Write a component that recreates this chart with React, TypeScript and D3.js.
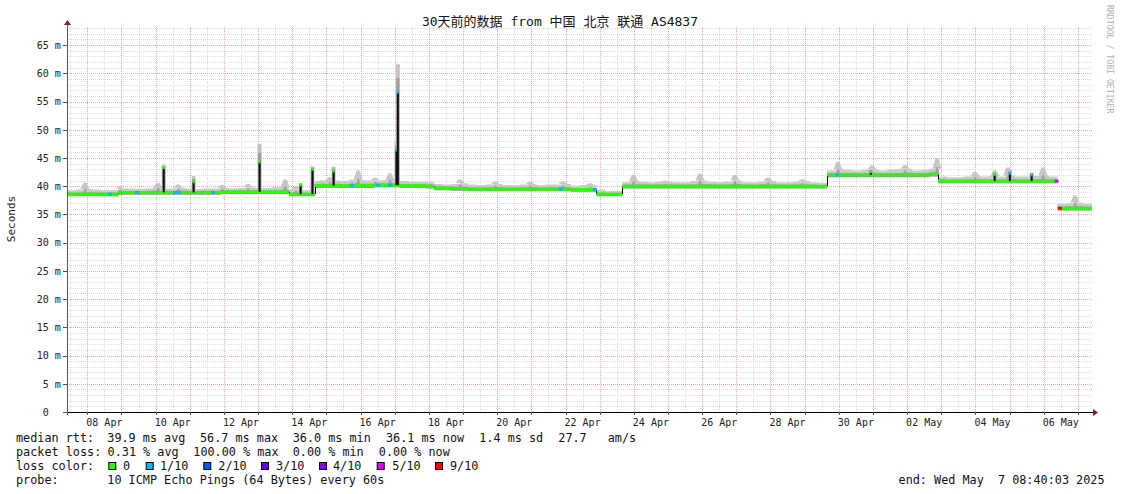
import React from 'react';
import * as d3 from 'd3';

// ---------- data ----------
const TITLE = '30天前的数据 from 中国 北京 联通 AS4837';
const Y_AXIS_TITLE = 'Seconds';
const WATERMARK = 'RRDTOOL / TOBI OETIKER';
const DOMAIN_START = '2025-04-07T09:44:00Z';
const DOMAIN_END = '2025-05-07T10:37:00Z';
const SAMPLE_HOURS = 6;
const Y_MAX = 68.2;

// median rtt (ms), one value per 6-hour sample starting at DOMAIN_START
const medianRtt = [
  38.6, 38.6, 38.6, 38.6, 38.6, 38.6,
  38.9, 38.9, 38.9, 38.9, 38.9, 38.9, 38.9, 38.9, 38.9, 38.9, 38.9, 38.9,
  39.0, 39.0, 39.0, 39.0, 39.0, 39.0, 39.0, 39.0,
  38.6, 38.6, 38.6,
  40.1, 40.1, 40.1, 40.1, 40.1, 40.1, 40.1, 40.2, 40.2, 40.2,
  40.1, 40.1, 40.1, 40.0,
  39.7, 39.7, 39.6, 39.6, 39.5, 39.5, 39.5, 39.5, 39.5, 39.5, 39.5, 39.5, 39.5, 39.5, 39.5, 39.5, 39.4, 39.4, 39.4,
  38.6, 38.6, 38.6,
  40.0, 40.0, 40.0, 40.0, 40.0, 40.0, 40.0, 40.0, 40.0, 40.0, 40.0, 40.0,
  40.0, 40.0, 40.0, 40.0, 40.0, 40.0, 40.0, 40.0, 40.0, 40.0, 40.0, 40.0,
  42.0, 42.0, 42.0, 42.0, 42.0, 42.0, 42.0, 42.0, 42.0, 42.0, 42.0, 42.0, 42.1,
  40.9, 40.9, 40.9, 40.9, 40.9, 40.9, 40.9, 40.9, 40.9, 40.9, 40.9, 40.9, 40.9, 40.9,
  36.1, 36.1, 36.1, 36.1,
];

// upper edge of the smoke per sample
const smokeHigh = [
  39.3, 39.4, 39.5, 39.4, 39.3, 39.3,
  39.6, 39.6, 39.5, 39.6, 39.7, 39.6, 39.6, 39.7, 39.6, 39.5, 39.6, 39.6,
  39.7, 39.6, 39.7, 39.8, 39.7, 39.7, 39.8, 39.9,
  39.4, 39.3, 39.3,
  40.9, 40.9, 41.0, 40.9, 41.0, 41.1, 41.0, 41.0, 41.1, 41.2,
  40.9, 40.8, 40.8, 40.7,
  40.4, 40.3, 40.4, 40.5, 40.3, 40.2, 40.3, 40.4, 40.2, 40.2, 40.3, 40.4, 40.2, 40.3, 40.3, 40.4, 40.1, 40.2, 40.2,
  39.4, 39.2, 39.2,
  40.7, 40.9, 40.8, 40.7, 40.8, 40.8, 40.7, 40.7, 40.9, 41.0, 40.8, 40.7,
  40.8, 41.0, 40.7, 40.7, 40.8, 40.9, 40.7, 40.7, 40.8, 40.9, 40.7, 40.6,
  42.8, 43.0, 42.9, 42.8, 42.9, 43.0, 42.8, 42.9, 43.0, 43.1, 42.8, 42.9, 43.1,
  41.7, 41.6, 41.6, 41.7, 41.8, 41.7, 41.8, 41.7, 41.9, 41.7, 41.7, 41.8, 41.9, 41.7,
  36.9, 37.0, 37.1, 36.9,
];

// lower edge of the smoke per sample
const smokeLow = [
  38.2, 38.2, 38.2, 38.2, 38.2, 38.2,
  38.5, 38.5, 38.5, 38.5, 38.5, 38.5, 38.5, 38.5, 38.5, 38.5, 38.5, 38.5,
  38.6, 38.6, 38.6, 38.6, 38.6, 38.6, 38.6, 38.6,
  38.2, 38.2, 38.2,
  39.7, 39.7, 39.7, 39.7, 39.7, 39.7, 39.7, 39.8, 39.8, 39.8,
  39.7, 39.7, 39.7, 39.6,
  39.3, 39.3, 39.2, 39.2, 39.1, 39.1, 39.1, 39.1, 39.1, 39.1, 39.1, 39.1, 39.1, 39.1, 39.1, 39.1, 39.0, 39.0, 39.0,
  38.2, 38.2, 38.2,
  39.6, 39.6, 39.6, 39.6, 39.6, 39.6, 39.6, 39.6, 39.6, 39.6, 39.6, 39.6,
  39.6, 39.6, 39.6, 39.6, 39.6, 39.6, 39.6, 39.6, 39.6, 39.6, 39.6, 39.6,
  41.6, 41.6, 41.6, 41.6, 41.6, 41.6, 41.6, 41.6, 41.6, 41.6, 41.6, 41.6, 41.7,
  40.5, 40.5, 40.5, 40.5, 40.5, 40.5, 40.5, 40.5, 40.5, 40.5, 40.5, 40.5, 40.5, 40.5,
  35.7, 35.7, 35.7, 35.7,
];

// sample index where a data gap separates the line (no connector drawn)
const gapBeforeSample = [116];

// narrow bursts in the smoke (max rtt)
const smokeBumpTimes = [
  '2025-04-07T22:20:00Z', '2025-04-08T22:56:00Z', '2025-04-10T01:38:00Z', '2025-04-10T15:44:00Z',
  '2025-04-11T22:38:00Z', '2025-04-12T16:56:00Z', '2025-04-13T18:56:00Z', '2025-04-14T02:38:00Z',
  '2025-04-14T20:56:00Z', '2025-04-15T02:32:00Z', '2025-04-15T17:56:00Z', '2025-04-15T22:14:00Z',
  '2025-04-16T10:08:00Z', '2025-04-16T20:38:00Z', '2025-04-18T00:44:00Z', '2025-04-18T21:50:00Z',
  '2025-04-19T22:26:00Z', '2025-04-20T23:02:00Z', '2025-04-21T22:14:00Z', '2025-04-22T17:14:00Z',
  '2025-04-23T23:44:00Z', '2025-04-24T21:56:00Z', '2025-04-25T22:26:00Z', '2025-04-26T23:02:00Z',
  '2025-04-27T22:14:00Z', '2025-04-28T22:08:00Z', '2025-04-29T23:26:00Z', '2025-04-30T23:20:00Z',
  '2025-05-01T22:32:00Z', '2025-05-02T21:02:00Z', '2025-05-03T23:44:00Z', '2025-05-04T13:44:00Z',
  '2025-05-04T22:50:00Z', '2025-05-05T23:26:00Z', '2025-05-06T21:56:00Z',
];
const smokeBumpTops = [
  40.6, 40.0, 40.6, 40.3, 40.2, 40.4, 41.2, 40.0,
  41.0, 41.6, 41.2, 42.8, 41.5, 42.3, 40.8, 41.2,
  40.8, 40.8, 40.8, 40.5, 42.0, 41.0, 42.2, 42.0,
  41.5, 41.2, 44.3, 43.7, 43.7, 45.0, 42.5, 42.8,
  43.3, 43.3, 38.4,
];

// short latency spikes
const spikeTimes = [
  '2025-04-10T05:00:00Z', '2025-04-11T02:00:00Z', '2025-04-13T00:20:00Z', '2025-04-14T05:10:00Z',
  '2025-04-14T13:30:00Z', '2025-04-15T04:20:00Z', '2025-04-17T00:30:00Z', '2025-04-17T01:30:00Z',
  '2025-04-30T21:50:00Z', '2025-05-04T12:50:00Z', '2025-05-04T23:30:00Z', '2025-05-05T14:50:00Z',
];
const spikePeak = [43.3, 40.8, 44.3, 40.2, 43.0, 42.7, 46.4, 56.7, 42.6, 42.1, 42.3, 42.0];
const spikeSmokeTop = [43.8, 41.8, 47.5, 40.6, 43.5, 43.5, 48.0, 61.6, 43.0, 42.6, 43.0, 42.4];
const spikeLoss = [0, 0, 0, 0, 0, 0, 1, 1, 0, 0, 1, 1];

// packet-loss events on the median line
const lossEventTimes = [
  '2025-04-08T15:56:00Z', '2025-04-09T10:56:00Z', '2025-04-10T13:38:00Z', '2025-04-10T16:30:00Z',
  '2025-04-11T16:20:00Z', '2025-04-15T17:56:00Z', '2025-04-16T12:14:00Z', '2025-04-16T20:40:00Z',
  '2025-04-21T20:38:00Z', '2025-04-22T20:44:00Z', '2025-04-29T23:00:00Z', '2025-05-06T09:00:00Z',
  '2025-05-06T11:24:00Z',
];
const lossEventLevels = [1, 1, 1, 1, 1, 1, 1, 1, 1, 1, 1, 5, 9];

const yTicks = [0, 5, 10, 15, 20, 25, 30, 35, 40, 45, 50, 55, 60, 65];
const yTickLabels = ['0  ', '5 m', '10 m', '15 m', '20 m', '25 m', '30 m', '35 m', '40 m', '45 m', '50 m', '55 m', '60 m', '65 m'];
const xLabelDates = [
  '2025-04-08', '2025-04-10', '2025-04-12', '2025-04-14', '2025-04-16', '2025-04-18', '2025-04-20',
  '2025-04-22', '2025-04-24', '2025-04-26', '2025-04-28', '2025-04-30', '2025-05-02', '2025-05-04', '2025-05-06',
];
const xLabels = [
  '08 Apr', '10 Apr', '12 Apr', '14 Apr', '16 Apr', '18 Apr', '20 Apr',
  '22 Apr', '24 Apr', '26 Apr', '28 Apr', '30 Apr', '02 May', '04 May', '06 May',
];

const lossKeys = [0, 1, 2, 3, 4, 5, 9];
const lossNames = ['0', '1/10', '2/10', '3/10', '4/10', '5/10', '9/10'];
const lossColors = ['#26ff00', '#00b8ff', '#0059ff', '#5e00ff', '#7e00ff', '#dd00ff', '#ff0000'];

const rttHeader = 'median rtt:';
const rttStats = ['39.9 ms avg', '56.7 ms max', '36.0 ms min', '36.1 ms now', '1.4 ms sd', '27.7', 'am/s'];
const lossHeader = 'packet loss:';
const lossStats = ['0.31 % avg', '100.00 % max', '0.00 % min', '0.00 % now'];
const colorHeader = 'loss color:';
const probeHeader = 'probe:';
const probeText = '10 ICMP Echo Pings (64 Bytes) every 60s';
const endText = 'end: Wed May  7 08:40:03 2025';

// ---------- layout ----------
const W = 1121;
const H = 494;
const LEFT = 67;
const RIGHT = 1093;
const BOTTOM = 412;
const TOP = 27;
const MONO = '"DejaVu Sans Mono", monospace';
const TITLE_FONT = '"DejaVu Sans Mono", "Noto Sans CJK SC", monospace';
const rttStatX = [107.3, 200, 292.7, 386, 479.3, 558.3, 607.7];
const lossStatX = [107.6, 193.3, 292.7, 378.8];
const boxX = [108.3, 145.7, 203.3, 261, 319, 376.7, 435];
const boxLabelX = [123, 160, 218.3, 276, 333, 392.3, 450];
const PRE = { whiteSpace: 'pre' as const };
const MINOR_GRID = '#dcdcdc';
const MAJOR_GRID = '#f3a3a3';

export default function App() {
  const start = new Date(DOMAIN_START);
  const end = new Date(DOMAIN_END);
  const x = d3.scaleUtc().domain([start, end]).range([LEFT, RIGHT]);
  const y = d3.scaleLinear().domain([0, Y_MAX]).range([BOTTOM, TOP]);

  const n = medianRtt.length;
  const pts = d3.range(n + 1).map((i) => {
    const k = Math.min(i, n - 1);
    return {
      t: d3.utcHour.offset(start, i * SAMPLE_HOURS),
      med: medianRtt[k],
      hi: smokeHigh[k],
      lo: smokeLow[k],
    };
  });
  const sampleAt = (t: Date) => {
    const k = Math.floor((t.getTime() - start.getTime()) / (SAMPLE_HOURS * 3600e3));
    return Math.max(0, Math.min(n - 1, k));
  };
  const colorOf = (lvl: number) => lossColors[Math.max(0, lossKeys.indexOf(lvl))];

  const outerArea = d3
    .area<any>()
    .x((d) => x(d.t))
    .y0((d) => y(d.lo))
    .y1((d) => y(d.hi))
    .curve(d3.curveStepAfter);
  const innerArea = d3
    .area<any>()
    .x((d) => x(d.t))
    .y0((d) => y(d.lo))
    .y1((d) => y(d.med + 0.35 * (d.hi - d.med)))
    .curve(d3.curveStepAfter);

  const majorX = d3.utcDay.range(start, end);
  const minorX = d3.utcHour.every(12)!.range(start, end).filter((d) => d.getUTCHours() === 12);
  const minorY = d3.range(1, Math.floor(Y_MAX) + 1).filter((v) => v % 5 !== 0);
  const crisp = (v: number) => Math.round(v) + 0.5;

  return (
    <svg
      width={W}
      height={H}
      style={{ position: 'absolute', left: 0, top: 0, background: '#fff' }}
      fontFamily={MONO}
    >
      <rect x={0} y={0} width={W} height={H} fill="#fff" />
      {/* grid */}
      <g shapeRendering="crispEdges">
        {minorY.map((v) => (
          <line key={'my' + v} x1={LEFT} x2={RIGHT} y1={crisp(y(v))} y2={crisp(y(v))}
            stroke={MINOR_GRID} strokeDasharray="1,1" />
        ))}
        {minorX.map((d) => (
          <line key={'mx' + d.getTime()} x1={crisp(x(d))} x2={crisp(x(d))} y1={TOP} y2={BOTTOM}
            stroke={MINOR_GRID} strokeDasharray="1,1" />
        ))}
        {yTicks.filter((v) => v > 0).map((v) => (
          <line key={'My' + v} x1={LEFT} x2={RIGHT} y1={crisp(y(v))} y2={crisp(y(v))}
            stroke={MAJOR_GRID} strokeDasharray="1,1" />
        ))}
        {majorX.map((d) => (
          <line key={'Mx' + d.getTime()} x1={crisp(x(d))} x2={crisp(x(d))} y1={TOP} y2={BOTTOM}
            stroke={MAJOR_GRID} strokeDasharray="1,1" />
        ))}
      </g>

      {/* smoke */}
      <path d={outerArea(pts) || ''} fill="#cacaca" />
      {smokeBumpTimes.map((s, i) => {
        const t = new Date(s);
        const k = sampleAt(t);
        const base = smokeHigh[k];
        const med = medianRtt[k];
        const top = smokeBumpTops[i];
        const xx = x(t);
        const mid = med + 0.45 * (top - med);
        return (
          <g key={'bump' + i}>
            <path d={`M${xx - 4.5},${y(base)} L${xx - 1.5},${y(top)} L${xx + 1.5},${y(top)} L${xx + 4.5},${y(base)} Z`} fill="#c6c6c6" />
            <path d={`M${xx - 2.5},${y(med)} L${xx - 0.5},${y(mid)} L${xx + 1},${y(mid)} L${xx + 2.5},${y(med)} Z`} fill="#a2a2a2" />
          </g>
        );
      })}
      <path d={innerArea(pts) || ''} fill="#9c9c9c" />

      {/* spikes smoke */}
      {spikeTimes.map((s, i) => {
        const t = new Date(s);
        const base = medianRtt[sampleAt(t)];
        const xx = x(t);
        const mid = (spikeSmokeTop[i] + spikePeak[i]) / 2;
        return (
          <g key={'ss' + i}>
            <rect x={xx - 1} y={y(spikeSmokeTop[i])} width={4} height={y(base) - y(spikeSmokeTop[i])} fill="#c4c4c4" />
            <rect x={xx - 0.5} y={y(mid)} width={3} height={y(base) - y(mid)} fill="#9c9c9c" />
          </g>
        );
      })}

      {/* black connectors between median levels */}
      {pts.slice(1, n).map((p, j) => {
        const i = j + 1;
        if (gapBeforeSample.includes(i) || medianRtt[i] === medianRtt[i - 1]) return null;
        return (
          <line key={'c' + i} x1={crisp(x(p.t))} x2={crisp(x(p.t))} y1={y(medianRtt[i - 1])} y2={y(medianRtt[i])}
            stroke="#000" strokeWidth={1} />
        );
      })}

      {/* median coloured by loss */}
      {pts.slice(0, n).map((p, i) => (
        <line key={'m' + i} x1={x(p.t)} x2={x(pts[i + 1].t)} y1={y(p.med)} y2={y(p.med)}
          stroke={lossColors[0]} strokeWidth={3} />
      ))}

      {/* spikes */}
      {spikeTimes.map((s, i) => {
        const t = new Date(s);
        const base = medianRtt[sampleAt(t)];
        const xx = x(t);
        return (
          <g key={'sp' + i}>
            <rect x={xx} y={y(spikePeak[i])} width={2} height={y(base) - y(spikePeak[i])} fill="#111" />
            <rect x={xx} y={y(spikePeak[i]) - 1.5} width={2} height={3} fill={colorOf(spikeLoss[i])} />
          </g>
        );
      })}

      {/* loss events */}
      {lossEventTimes.map((s, i) => {
        const t = new Date(s);
        const v = medianRtt[sampleAt(t)];
        return (
          <rect key={'le' + i} x={x(t) - 2} y={y(v) - 1.5} width={4} height={3} fill={colorOf(lossEventLevels[i])} />
        );
      })}

      {/* axes */}
      <g shapeRendering="crispEdges">
        <line x1={LEFT - 4} x2={RIGHT + 1} y1={BOTTOM + 0.5} y2={BOTTOM + 0.5} stroke="#000" />
        <line x1={LEFT + 0.5} x2={LEFT + 0.5} y1={BOTTOM + 3} y2={TOP - 2} stroke="#555" />
        {yTicks.map((v) => (
          <line key={'yt' + v} x1={LEFT - 4} x2={LEFT} y1={crisp(y(v))} y2={crisp(y(v))} stroke="#555" />
        ))}
        {majorX.map((d) => (
          <line key={'xt' + d.getTime()} x1={crisp(x(d))} x2={crisp(x(d))} y1={BOTTOM} y2={BOTTOM + 3} stroke="#555" />
        ))}
      </g>
      <path d={`M${RIGHT},${BOTTOM - 3} L${RIGHT + 5},${BOTTOM + 0.5} L${RIGHT},${BOTTOM + 4} Z`} fill="#8a1c1c" />
      <path d={`M${LEFT - 3},${TOP - 2} L${LEFT + 0.5},${TOP - 7} L${LEFT + 4},${TOP - 2} Z`} fill="#8a1c1c" />

      {/* y labels */}
      {yTicks.map((v, i) => (
        <text key={'yl' + v} x={60.8} y={y(v) + 3.8} fontSize={10} textAnchor="end" fill="#222" xmlSpace="preserve" style={PRE}>
          {yTickLabels[i]}
        </text>
      ))}
      {/* x labels */}
      {xLabelDates.map((d, i) => (
        <text key={'xl' + d} x={x(d3.utcHour.offset(new Date(d + 'T00:00:00Z'), 12))} y={426} fontSize={10}
          textAnchor="middle" fill="#222">
          {xLabels[i]}
        </text>
      ))}

      {/* titles */}
      <text x={560} y={26} fontSize={13} textAnchor="middle" fontFamily={TITLE_FONT} fill="#111">{TITLE}</text>
      <text transform="translate(15,219) rotate(-90)" fontSize={11} textAnchor="middle" fill="#222">{Y_AXIS_TITLE}</text>
      <text transform="translate(1107,5) rotate(90)" fontSize={8.2} fill="#b0b0b0">{WATERMARK}</text>

      {/* legend */}
      <g fontSize={11.8} fill="#111">
        <text x={16} y={442} xmlSpace="preserve" style={PRE}>{rttHeader}</text>
        {rttStats.map((s, i) => (
          <text key={'rs' + i} x={rttStatX[i]} y={442} xmlSpace="preserve" style={PRE}>{s}</text>
        ))}
        <text x={16} y={456} xmlSpace="preserve" style={PRE}>{lossHeader}</text>
        {lossStats.map((s, i) => (
          <text key={'ls' + i} x={lossStatX[i]} y={456} xmlSpace="preserve" style={PRE}>{s}</text>
        ))}
        <text x={16} y={470} xmlSpace="preserve" style={PRE}>{colorHeader}</text>
        {lossNames.map((s, i) => (
          <g key={'lc' + i}>
            <rect x={boxX[i] + 0.5} y={462.5} width={7} height={7} fill={lossColors[i]} stroke="#000" strokeWidth={1} />
            <text x={boxLabelX[i]} y={470} xmlSpace="preserve" style={PRE}>{s}</text>
          </g>
        ))}
        <text x={16} y={484} xmlSpace="preserve" style={PRE}>{probeHeader}</text>
        <text x={107.3} y={484} xmlSpace="preserve" style={PRE}>{probeText}</text>
        <text x={1104.5} y={484} textAnchor="end" xmlSpace="preserve" style={PRE}>{endText}</text>
      </g>
    </svg>
  );
}
